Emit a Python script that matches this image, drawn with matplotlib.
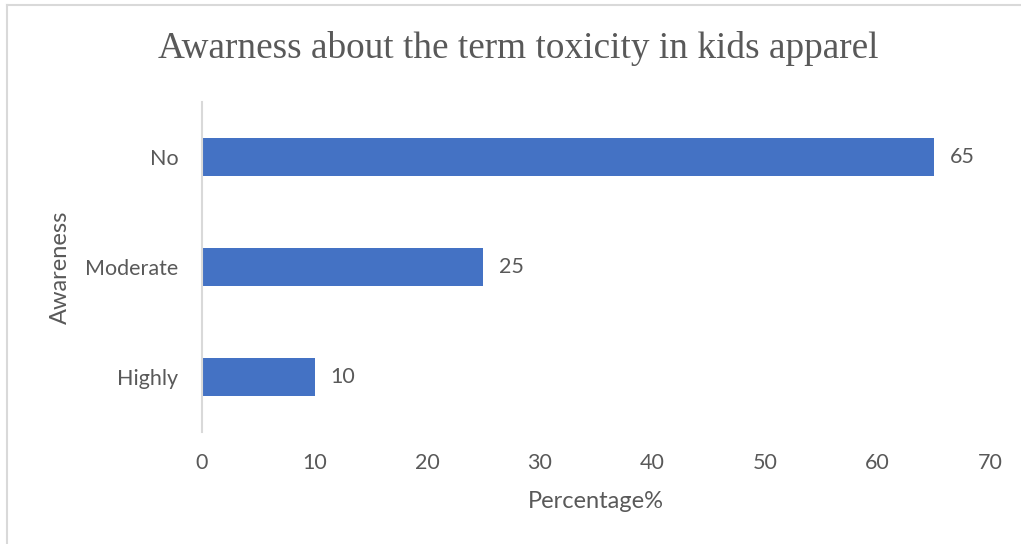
import matplotlib.pyplot as plt
from matplotlib.lines import Line2D

categories = ["Highly", "Moderate", "No"]
percentages = [10, 25, 65]
x_ticks = [0, 10, 20, 30, 40, 50, 60, 70]

W, H = 1021, 544
fig = plt.figure(figsize=(W / 100, H / 100), dpi=100)
fig.patch.set_facecolor("white")

text_color = "#595959"
bar_color = "#4472C4"
sans = ["Lato", "DejaVu Sans"]

ax = fig.add_axes([202 / W, (H - 432) / H, (990 - 202) / W, (432 - 102) / H])
bars = ax.barh(categories, percentages, height=0.35, color=bar_color)

ax.set_xlim(0, 70)
ax.set_ylim(-0.5, len(categories) - 0.5)
ax.set_xticks(x_ticks)
ax.set_xticklabels([str(t) for t in x_ticks])

for spine in ("top", "right", "bottom"):
    ax.spines[spine].set_visible(False)
ax.spines["left"].set_color("#d9d9d9")
ax.spines["left"].set_linewidth(1.5)

ax.tick_params(axis="both", length=0, colors=text_color, labelsize=15.5)
ax.tick_params(axis="x", pad=15)
ax.tick_params(axis="y", pad=17)
for lbl in ax.get_xticklabels() + ax.get_yticklabels():
    lbl.set_family(sans)

for rect, val in zip(bars, percentages):
    ax.text(rect.get_width() + 1.4, rect.get_y() + rect.get_height() / 2, str(val),
            va="center", ha="left", color=text_color, fontsize=15.5, family=sans)

ax.set_xlabel("Percentage%", color=text_color, fontsize=17, family=sans, labelpad=13)
ax.set_ylabel("Awareness", color=text_color, fontsize=17, family=sans, labelpad=10)

fig.text(518 / W, 1 - 49 / H, "Awarness about the term toxicity in kids apparel",
         ha="center", va="center", color=text_color, fontsize=26.8,
         family=["Liberation Serif", "DejaVu Serif"])

# outer frame: top and left edges
fig.add_artist(Line2D([7 / W, 1], [1 - 4.5 / H, 1 - 4.5 / H], color="#d9d9d9", lw=1.5))
fig.add_artist(Line2D([7 / W, 7 / W], [0, 1 - 4.5 / H], color="#d9d9d9", lw=1.5))

fig.savefig("out.png", dpi=100, facecolor="white")
